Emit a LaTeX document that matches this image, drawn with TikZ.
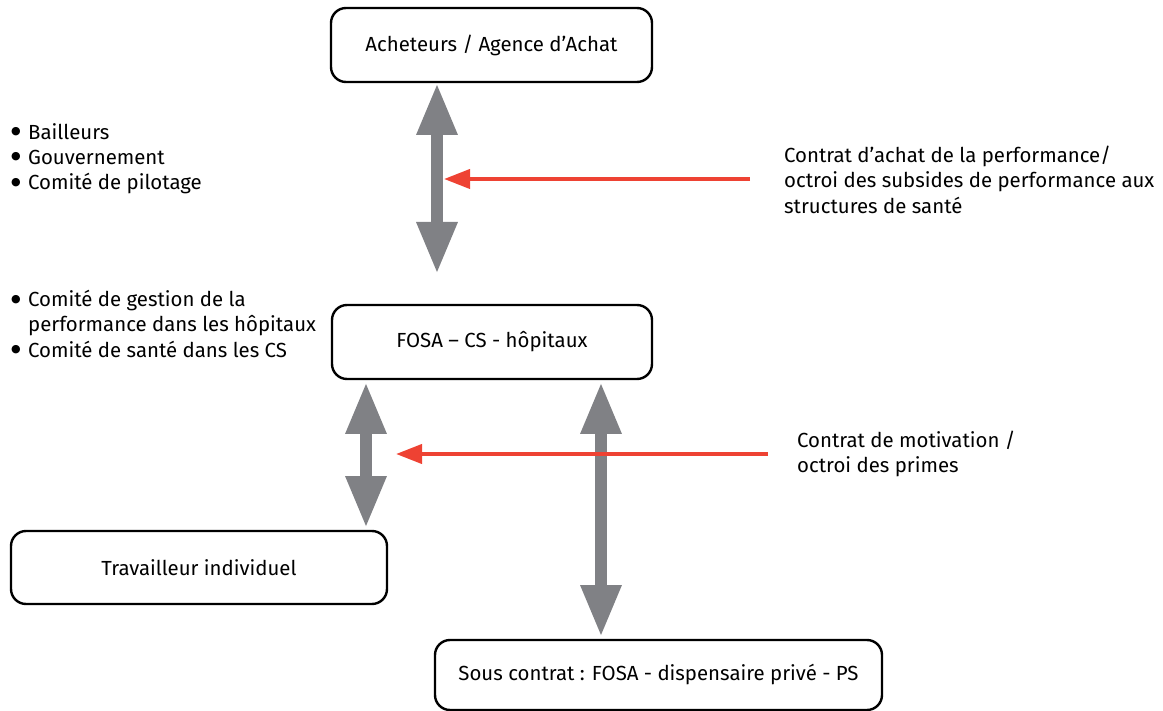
\documentclass[tikz,border=0pt]{standalone}
\usepackage{fontspec}
\setmainfont{Fira Sans}
\newfontfamily\symfont{DejaVu Sans}
\usetikzlibrary{arrows.meta}
\definecolor{linkgray}{HTML}{808185}
\definecolor{flowred}{HTML}{EE4233}
\newcommand{\bul}{\makebox[17pt][l]{\raisebox{4.5pt}{\symfont\fontsize{11}{25}\selectfont ●}}}
\newcommand{\nobul}{\makebox[17pt][l]{}}
\newcommand{\firstline}{\rule{0pt}{15pt}}
\tikzset{
  box/.style={draw=black, line width=2.4pt, rounded corners=15pt, fill=white,
    inner sep=0pt, font=\fontsize{20.4}{25}\selectfont},
  biarrow/.style={draw=linkgray, line width=12pt,
    {Triangle[width=38pt,length=52pt]}-{Triangle[width=38pt,length=52pt]}},
  redarrow/.style={draw=flowred, line width=4pt, -{Triangle[width=19pt,length=26pt]}},
  note/.style={align=left, inner sep=0pt, font=\fontsize{20.4}{25.3}\selectfont},
}
\begin{document}
\begin{tikzpicture}[x=1pt,y=-1pt]
\useasboundingbox (0,0) rectangle (1163,711);
% boxes
\node[box, minimum width=321pt, minimum height=74pt] (A) at (491.5,45) {Acheteurs / Agence d’Achat};
\node[box, minimum width=320pt, minimum height=74pt] (B) at (492,342) {FOSA – CS - hôpitaux};
\node[box, minimum width=376pt, minimum height=73pt] (C) at (199,567.5) {Travailleur individuel};
\node[box, minimum width=447pt, minimum height=70pt] (D) at (658.5,675) {Sous contrat : FOSA - dispensaire privé - PS};
% side notes
\node[note, anchor=north west] (n1) at (11,123) {\firstline\bul Bailleurs\\\bul Gouvernement\\\bul Comité de pilotage};
\node[note, anchor=north west] (n2) at (11,290) {\firstline\bul Comité de gestion de la\\\nobul performance dans les hôpitaux\\\bul Comité de santé dans les CS};
\node[note, anchor=north west] (n3) at (784,146) {\firstline Contrat d’achat de la performance/\\octroi des subsides de performance aux\\structures de santé};
\node[note, anchor=north west] (n4) at (797,431) {\firstline Contrat de motivation /\\octroi des primes};
% gray links
\coordinate (a1s) at (437,83);
\coordinate (a1e) at (437,274);
\draw[biarrow] (a1s) -- (a1e);
\coordinate (a2s) at (366,382);
\coordinate (a2e) at (366,528);
\draw[biarrow] (a2s) -- (a2e);
\coordinate (a3s) at (601,382);
\coordinate (a3e) at (601,637);
\draw[biarrow] (a3s) -- (a3e);
% red contract arrows
\coordinate (r1s) at (750,179);
\coordinate (r1e) at (444,179);
\draw[redarrow] (r1s) -- (r1e);
\coordinate (r2s) at (768,454);
\coordinate (r2e) at (396,454);
\draw[redarrow] (r2s) -- (r2e);
\end{tikzpicture}
\end{document}
